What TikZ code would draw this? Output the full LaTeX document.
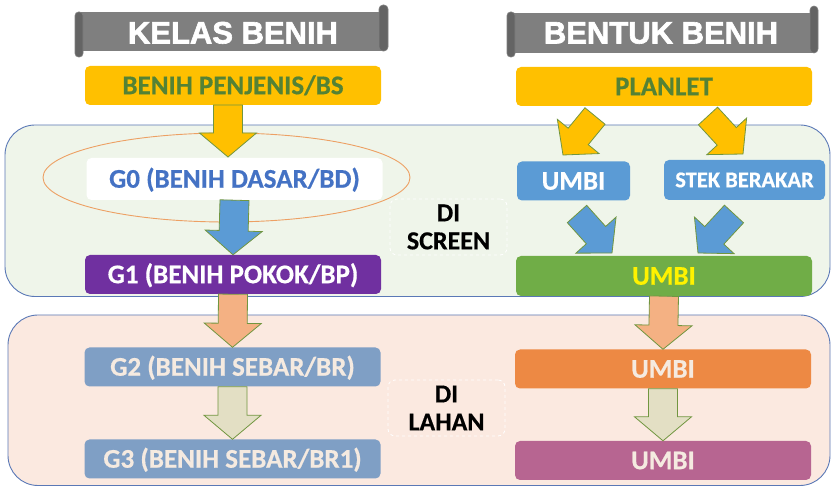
\documentclass[tikz,border=0pt]{standalone}
\usepackage{fontspec}
\setmainfont{Carlito}[BoldFeatures={FakeBold=0.5}]
\newfontfamily\bannerfont{Liberation Sans}[FakeBold=2]
\usetikzlibrary{calc}
\usetikzlibrary{shapes.geometric}
\definecolor{gold}{RGB}{255,192,0}
\definecolor{leafgreen}{RGB}{84,130,53}
\definecolor{arrline}{RGB}{113,150,64}
\definecolor{zoneline}{RGB}{90,120,182}
\definecolor{screenbg}{RGB}{239,245,234}
\definecolor{fieldbg}{RGB}{251,233,224}
\definecolor{g0blue}{RGB}{68,114,196}
\definecolor{plum}{RGB}{112,48,160}
\definecolor{steel}{RGB}{127,159,197}
\definecolor{cream}{RGB}{245,234,224}
\definecolor{sky}{RGB}{91,155,213}
\definecolor{grass}{RGB}{112,173,71}
\definecolor{tangerine}{RGB}{237,137,68}
\definecolor{mauve}{RGB}{183,101,145}
\definecolor{peach}{RGB}{244,177,131}
\definecolor{khaki}{RGB}{227,223,196}
\definecolor{ringline}{RGB}{237,160,100}
\definecolor{scroll}{RGB}{127,127,127}
\definecolor{scrolldark}{RGB}{100,100,100}
\tikzset{fat/.style n args={4}{ % block arrow drawn from start to target
    draw=arrline, line width=0.8pt, fill=#1,
    to path={let \p1=($(\tikztotarget)!#4!(\tikztostart)$) in
      ($(\tikztostart)!#2!90:(\tikztotarget)$) -- ($(\p1)!#2!90:(\tikztotarget)$)
      -- ($(\p1)!#3!90:(\tikztotarget)$) -- (\tikztotarget)
      -- ($(\p1)!#3!-90:(\tikztotarget)$) -- ($(\p1)!#2!-90:(\tikztotarget)$)
      -- ($(\tikztostart)!#2!-90:(\tikztotarget)$) -- cycle}}}

\begin{document}
\begin{tikzpicture}[x=1pt, y=-1pt,
    box/.style={rectangle, rounded corners=5pt, minimum width=296pt, minimum height=39pt,
      inner sep=0pt, text height=17.4pt, text depth=0pt, font=\bfseries\fontsize{27}{27}\selectfont},
    zone/.style={draw=zoneline, line width=0.9pt, rounded corners=30pt},
    tag/.style={draw=white, dashed, line width=0.8pt, rounded corners=7pt, minimum width=117pt,
      minimum height=56pt, align=center, font=\bfseries\fontsize{26}{28}\selectfont},
    ring/.style={ellipse, draw=ringline, line width=0.9pt, minimum width=367pt, minimum height=89pt},
    title/.style={anchor=base, text=white, font=\bannerfont\bfseries\fontsize{31}{31}\selectfont},
    curl/.style={fill=scrolldark, draw=scroll, line width=0.6pt},
    bigarrow/.style={fat={#1}{14.5pt}{28.5pt}{24pt}},
    tiltarrow/.style={fat={#1}{13pt}{27pt}{24pt}}
  ]
  \useasboundingbox (0,0) rectangle (831,486);

  % screen house and field
  \draw[zone, fill=screenbg] (5,125) rectangle (830,296.5);
  \draw[zone, fill=fieldbg] (8,315) rectangle (830,485.5);

  % title scrolls
  \fill[scroll] (80,12) rectangle (385,51);
  \draw[curl, rounded corners=3.5pt] (75,12) rectangle (83,57);
  \draw[curl, rounded corners=4pt] (379,5) rectangle (388,51);
  \node[title] (kelas) at (233,43.5) {KELAS BENIH};
  \fill[scroll] (512,13) rectangle (815,53);
  \draw[curl, rounded corners=3.5pt] (507,12) rectangle (515,57);
  \draw[curl, rounded corners=4pt] (810,6) rectangle (818,53);
  \node[title] (bentuk) at (661,43.5) {BENTUK BENIH};

  % seed classes
  \node[ring] (ring) at (226.5,177.5) {};
  \node[box, fill=gold, text=leafgreen] (bs) at (233,85.5) {BENIH PENJENIS/BS};
  \node[box, fill=white, text=g0blue, minimum height=42pt] (g0) at (234.5,179) {G0 (BENIH DASAR/BD)};
  \node[box, fill=plum, text=white] (g1) at (233,274.5) {G1 (BENIH POKOK/BP)};
  \node[box, fill=steel, text=cream] (g2) at (232.5,367) {G2 (BENIH SEBAR/BR)};
  \node[box, fill=steel, text=cream] (g3) at (232.5,459) {G3 (BENIH SEBAR/BR1)};

  \node[tag] (screen) at (448.5,227) {DI\\SCREEN};
  \node[tag] (lahan) at (446.5,408) {DI\\LAHAN};

  % seed forms
  \node[box, fill=gold, text=leafgreen] (planlet) at (664,86.5) {PLANLET};
  \node[box, fill=sky, text=white, minimum width=113pt] (umbi1) at (573.5,181) {UMBI};
  \node[box, fill=sky, text=white, minimum width=161pt, minimum height=40pt, text height=14.5pt,
    font=\bfseries\fontsize{22.5}{22.5}\selectfont] (stek) at (744.5,180) {STEK BERAKAR};
  \node[box, fill=grass, text=yellow, minimum height=40pt] (umbi2) at (664,276) {UMBI};
  \node[box, fill=tangerine, text=cream] (umbi3) at (663,369) {UMBI};
  \node[box, fill=mauve, text=cream] (umbi4) at (663,460.5) {UMBI};

  \coordinate (b0) at (228,105);
  \coordinate (b1) at (228,157);
  \coordinate (p1) at (595,116);
  \coordinate (t1) at (563,155);
  \coordinate (p2) at (708,116);
  \coordinate (t2) at (743,154);
  \coordinate (q1) at (577,214);
  \coordinate (t3) at (612,253);
  \coordinate (q2) at (734,214);
  \coordinate (t4) at (698,253);

  % arrows
  \draw[bigarrow=gold] (b0) to (b1);
  \draw[bigarrow=sky] (g0.south) to (g1.north);
  \draw[bigarrow=peach] (g1.south) to (g2.north);
  \draw[bigarrow=khaki] (g2.south) to (g3.north);
  \draw[tiltarrow=gold] (p1) to (t1);
  \draw[tiltarrow=gold] (p2) to (t2);
  \draw[tiltarrow=sky] (q1) to (t3);
  \draw[tiltarrow=sky] (q2) to (t4);
  \draw[bigarrow=peach] (umbi2.south) to (umbi3.north);
  \draw[bigarrow=khaki] (umbi3.south) to (umbi4.north);
\end{tikzpicture}
\end{document}
